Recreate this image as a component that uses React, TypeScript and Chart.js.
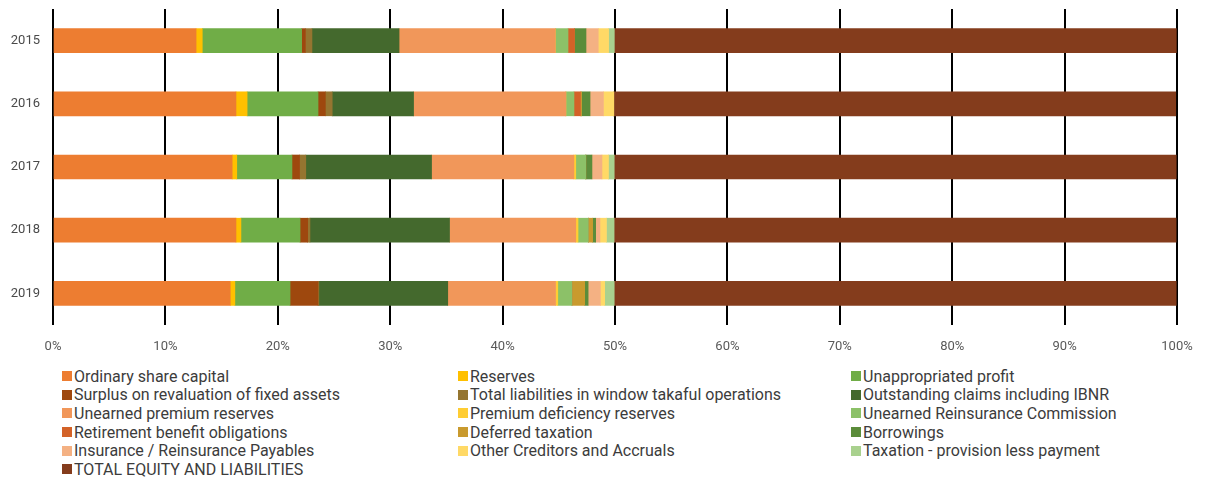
import React, { useEffect, useRef } from "react";
import { Chart, registerables } from "chart.js";

Chart.register(...registerables);

const years = ["2015", "2016", "2017", "2018", "2019"];

const seriesNames = [
  "Ordinary share capital",
  "Reserves",
  "Unappropriated profit",
  "Surplus on revaluation of fixed assets",
  "Total liabilities in window takaful operations",
  "Outstanding claims including IBNR",
  "Unearned premium reserves",
  "Premium deficiency reserves",
  "Unearned Reinsurance Commission",
  "Retirement benefit obligations",
  "Deferred taxation",
  "Borrowings",
  "Insurance / Reinsurance Payables",
  "Other Creditors and Accruals",
  "Taxation - provision less payment",
  "TOTAL EQUITY AND LIABILITIES",
];

const seriesColors = [
  "#ED7D31", "#FFC000", "#70AD47",
  "#9E480E", "#957530", "#44692D",
  "#F1975A", "#FFCD33", "#8CC168",
  "#D36228", "#C99A2E", "#5B8C3A",
  "#F4B183", "#FFD966", "#A9D18E",
  "#843C1C",
];

// share of total (%) per year, 2015..2019
const ordinaryShareCapital = [12.73, 16.28, 15.94, 16.28, 15.77];
const reserves = [0.55, 0.99, 0.41, 0.44, 0.41];
const unappropriatedProfit = [8.84, 6.31, 4.91, 5.26, 4.91];
const surplusRevaluation = [0.34, 0.65, 0.68, 0.68, 2.49];
const windowTakaful = [0.58, 0.61, 0.55, 0.2, 0.07];
const outstandingClaims = [7.75, 7.24, 11.19, 12.42, 11.47];
const unearnedPremium = [13.9, 13.55, 12.66, 11.23, 9.59];
const premiumDeficiency = [0, 0, 0.17, 0.2, 0.2];
const unearnedRICommission = [1.13, 0.72, 0.89, 0.92, 1.26];
const retirementBenefit = [0.58, 0.58, 0, 0, 0];
const deferredTaxation = [0, 0.1, 0, 0.38, 1.13];
const borrowings = [1.02, 0.75, 0.55, 0.27, 0.31];
const insurancePayables = [1.09, 1.19, 0.89, 0.38, 1.09];
const otherCreditors = [0.92, 0.92, 0.58, 0.58, 0.38];
const taxationProvision = [0.51, 0, 0.51, 0.68, 0.85];
const totalEquityLiabilities = [50, 50, 50, 50, 50];

const seriesValues = [
  ordinaryShareCapital,
  reserves,
  unappropriatedProfit,
  surplusRevaluation,
  windowTakaful,
  outstandingClaims,
  unearnedPremium,
  premiumDeficiency,
  unearnedRICommission,
  retirementBenefit,
  deferredTaxation,
  borrowings,
  insurancePayables,
  otherCreditors,
  taxationProvision,
  totalEquityLiabilities,
];

const FONT = "Roboto, 'DejaVu Sans', sans-serif";

export default function App() {
  const ref = useRef<HTMLCanvasElement | null>(null);

  useEffect(() => {
    if (!ref.current) return;
    const chart = new Chart(ref.current, {
      type: "bar",
      data: {
        labels: years,
        datasets: seriesNames.map((name, i) => ({
          label: name,
          data: seriesValues[i],
          backgroundColor: seriesColors[i],
          borderWidth: 0,
          barThickness: 24,
        })),
      },
      options: {
        indexAxis: "y",
        animation: false,
        responsive: false,
        maintainAspectRatio: false,
        layout: { padding: { top: 9, right: 28, left: 0, bottom: 0 } },
        plugins: {
          legend: { display: false },
          tooltip: { enabled: false },
        },
        scales: {
          x: {
            stacked: true,
            min: 0,
            max: 100,
            border: { display: false },
            grid: { color: "#000000", lineWidth: 2, drawTicks: false },
            ticks: {
              stepSize: 10,
              padding: 14,
              color: "#595959",
              font: { family: FONT, size: 13 },
              callback: (v: any) => v + "%",
            },
            afterFit: (s: any) => {
              s.height = 35;
              s.paddingLeft = 0;
              s.paddingRight = 0;
            },
          },
          y: {
            stacked: true,
            border: { display: false },
            grid: { display: false, drawTicks: false },
            ticks: {
              padding: 13,
              color: "#4a4a4a",
              font: { family: FONT, size: 13 },
            },
            afterFit: (s: any) => {
              s.width = 53;
              s.paddingTop = 0;
              s.paddingBottom = 0;
            },
          },
        },
      },
    });
    return () => chart.destroy();
  }, []);

  return (
    <div
      style={{
        position: "absolute",
        left: 0,
        top: 0,
        width: 1205,
        height: 480,
        background: "#fff",
        fontFamily: FONT,
      }}
    >
      <canvas ref={ref} width={1205} height={360} style={{ display: "block" }} />
      <div
        style={{
          position: "absolute",
          left: 62,
          top: 367,
          display: "grid",
          gridTemplateColumns: "396px 393px 340px",
          gridAutoRows: "18.6px",
          fontSize: 16,
          color: "#3c3c3c",
        }}
      >
        {seriesNames.map((name, i) => (
          <div
            key={name}
            style={{ display: "flex", alignItems: "center", whiteSpace: "nowrap" }}
          >
            <span
              style={{
                display: "inline-block",
                width: 10,
                height: 10,
                background: seriesColors[i],
                marginRight: 2,
                flex: "none",
              }}
            />
            <span>{name}</span>
          </div>
        ))}
      </div>
    </div>
  );
}
